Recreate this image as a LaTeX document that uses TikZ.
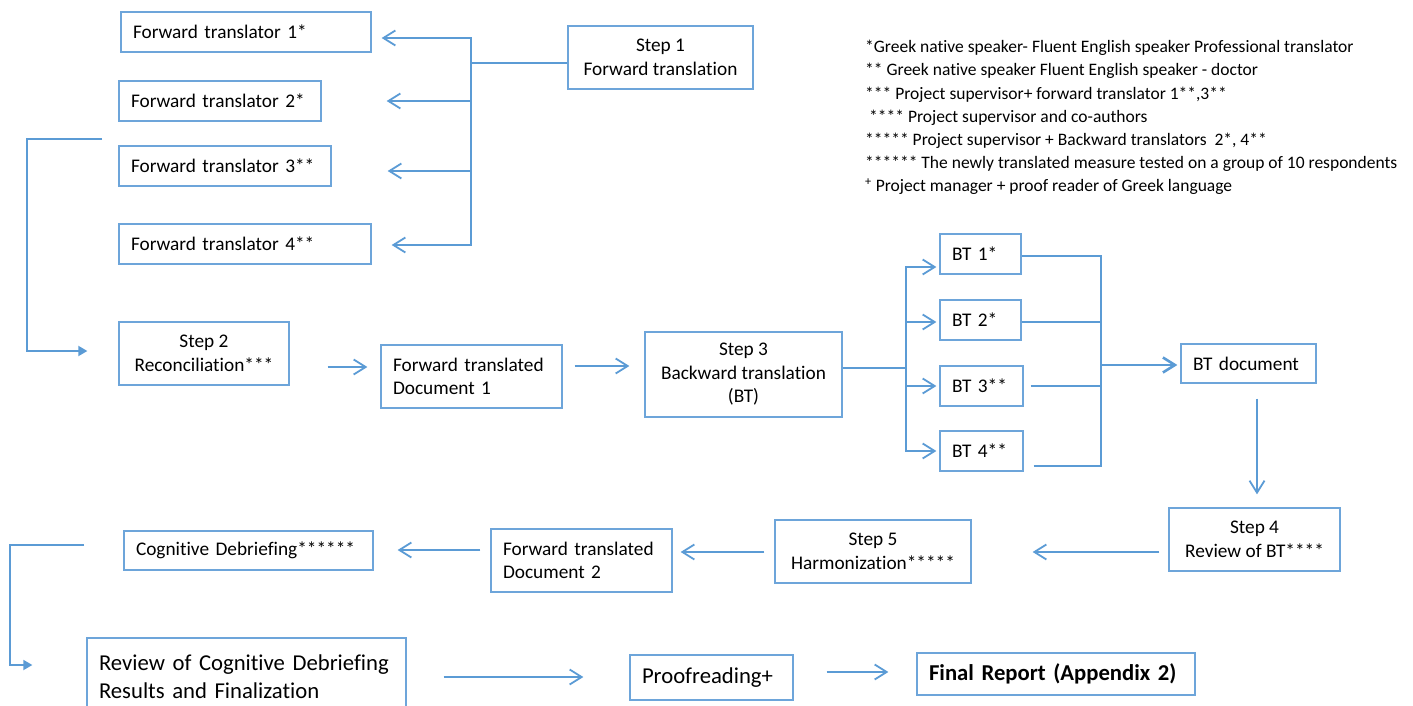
\documentclass[tikz,border=0pt]{standalone}
\usepackage{fontspec}
\setmainfont{Carlito}[Ligatures=NoCommon]
\usetikzlibrary{arrows.meta}
\definecolor{lineblue}{RGB}{91,155,213}
\definecolor{boxblue}{RGB}{109,165,218}
\newcommand\boxfont{\fontsize{19.3}{23.5}\selectfont}
\newcommand\bigboxfont{\fontsize{22.7}{27.5}\selectfont}
\newcommand\notefont{\fontsize{17.5}{23.2}\selectfont}

\begin{document}
\begin{tikzpicture}[x=1pt,y=-1pt,
    box/.style={draw=boxblue,line width=1.3pt,inner sep=0pt,font=\boxfont,align=center},
    tbox/.style={box,inner xsep=12pt,text width=#1-24pt,minimum width=#1,align=left},
    wire/.style={draw=lineblue,line width=1.8pt},
    arr/.style={wire,-{Straight Barb[length=12pt,width=15pt]}},
    farr/.style={wire,-{Triangle[length=9pt,width=10pt]}}]
  \useasboundingbox (0,0) rectangle (1413,706);

  % step 1 and the forward translators
  \node[box,minimum width=185,minimum height=63] (step1) at (660.5,57.5) {Step 1\\Forward translation};
  \node[tbox=250,minimum height=40] (ft1) at (246,32) {Forward translator 1*};
  \node[tbox=202,minimum height=40] (ft2) at (220,101) {Forward translator 2*};
  \node[tbox=212,minimum height=40] (ft3) at (225,166) {Forward translator 3**};
  \node[tbox=252,minimum height=40] (ft4) at (245,244) {Forward translator 4**};

  % notes
  \node[anchor=north west,inner sep=0pt,align=left,font=\notefont] (notes) at (865,40)
    {*Greek native speaker- Fluent English speaker Professional translator\\{}%
     ** Greek native speaker Fluent English speaker - doctor\\{}%
     *** Project supervisor+ forward translator 1**,3**\\{}%
     \hspace*{4pt}**** Project supervisor and co-authors\\{}%
     ***** Project supervisor + Backward translators\ \ 2*, 4**\\{}%
     ****** The newly translated measure tested on a group of 10 respondents\\{}%
     \textsuperscript{+} Project manager + proof reader of Greek language};

  % middle row
  \node[box,minimum width=170,minimum height=63] (step2) at (204,353.5) {Step 2\\Reconciliation***};
  \node[tbox=181,minimum height=63] (ftd1) at (471.5,376.5) {Forward translated\\Document 1};
  \node[box,minimum width=197,minimum height=85] (step3) at (743.5,374.5) {Step 3\\Backward translation\\(BT)};
  \node[tbox=81,minimum height=40] (bt1) at (980.5,254) {BT 1*};
  \node[tbox=81,minimum height=40] (bt2) at (980.5,320) {BT 2*};
  \node[tbox=83,minimum height=40] (bt3) at (981.5,386) {BT 3**};
  \node[tbox=83,minimum height=40] (bt4) at (981.5,451) {BT 4**};
  \node[tbox=135,minimum height=39] (btdoc) at (1248.5,363.5) {BT document};

  % lower rows
  \node[box,minimum width=171,minimum height=63] (step4) at (1254.5,539.5) {Step 4\\Review of BT****};
  \node[box,minimum width=196,minimum height=63] (step5) at (873,551.5) {Step 5\\Harmonization*****};
  \node[tbox=181,minimum height=63] (ftd2) at (581.5,560.5) {Forward translated\\Document 2};
  \node[tbox=249,minimum height=39] (cogdeb) at (248.5,550.5) {Cognitive Debriefing******};
  \node[tbox=319,minimum height=77,font=\bigboxfont] (review) at (246.5,676.5) {Review of Cognitive Debriefing\\Results and Finalization};
  \node[tbox=163,minimum height=45,font=\bigboxfont] (proof) at (711.5,677.5) {Proofreading+};
  \node[tbox=278,minimum height=42,font=\bigboxfont\bfseries] (final) at (1056,674) {Final Report (Appendix 2)};

  % forward fork
  \coordinate (fork1) at (471,63);
  \draw[wire,line width=2.6pt] (step1.west |- fork1) -- (fork1);
  \draw[arr] (fork1) |- ([xshift=10pt,yshift=-6pt]ft1.east);
  \draw[arr] (fork1) |- ([xshift=65pt]ft2.east);
  \draw[arr] (fork1) |- ([xshift=56pt,yshift=-5pt]ft3.east);
  \draw[arr] (fork1) |- ([xshift=20pt,yshift=-1pt]ft4.east);
  \coordinate (loop1) at (102,139);
  \draw[farr,shorten >=31pt] (loop1) -- ++(-75,0) |- (step2.west |- 0,351);

  \draw[arr,shorten <=38pt,shorten >=13pt] (step2.east |- 0,367) -- (ftd1.west |- 0,367);
  \draw[arr,shorten <=12pt,shorten >=15pt] (ftd1.east |- 0,366) -- (step3.west |- 0,366);

  % backward fork and join
  \coordinate (fork3) at (906,368);
  \draw[wire,line width=2.6pt] (step3.east |- fork3) -- (fork3);
  \draw[arr] (fork3) |- ([xshift=-3pt,yshift=-13pt]bt1.west);
  \draw[arr] (fork3) |- ([xshift=-3pt,yshift=-2pt]bt2.west);
  \draw[arr] (fork3) |- ([xshift=-3pt]bt3.west);
  \draw[arr] (fork3) |- ([xshift=-3pt]bt4.west);
  \coordinate (join) at (1101,365);
  \draw[wire] ([yshift=-2pt]bt1.east) -| (join);
  \draw[wire] ([yshift=-2pt]bt2.east) -| (join);
  \draw[wire] ([xshift=7pt]bt3.east) -| (join);
  \draw[wire] ([xshift=10pt,yshift=-15pt]bt4.east) -| (join);
  \draw[arr,line width=2.6pt,shorten >=3pt] (join) -- (btdoc.west |- join);
  \draw[arr,shorten <=15pt,shorten >=13pt] (btdoc.south -| 1257,0) -- (step4.north -| 1257,0);

  % back to the left
  \draw[arr,shorten <=9pt,shorten >=61pt] (step4.west |- 0,552) -- (step5.east |- 0,552);
  \draw[arr,shorten <=10pt,shorten >=8pt] (step5.west |- 0,552) -- (ftd2.east |- 0,552);
  \draw[arr,shorten <=10pt,shorten >=24pt] (ftd2.west |- 0,550) -- (cogdeb.east |- 0,550);
  \coordinate (loop2) at (84,545);
  \draw[farr,shorten >=54pt] (loop2) -- ++(-74,0) |- (review.west |- 0,665);

  \draw[arr,shorten <=37pt,shorten >=46pt] (review.east |- 0,677) -- (proof.west |- 0,677);
  \draw[arr,shorten <=33pt,shorten >=28pt] (proof.east |- 0,672) -- (final.west |- 0,672);
\end{tikzpicture}
\end{document}
